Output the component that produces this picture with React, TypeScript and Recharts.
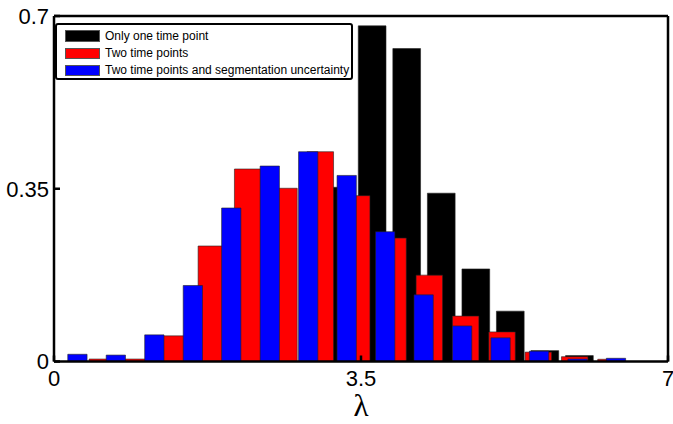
import React from "react";
import { ComposedChart, XAxis, YAxis, ReferenceArea, Label } from "recharts";

// bin centres and normalised frequencies
const xTicks = [0, 3.5, 7];
const yTicks = [0, 0.35, 0.7];

const singleCenters = [3.233, 3.627, 4.021, 4.415, 4.809, 5.202, 5.596, 5.99];
const singleValues = [0.353, 0.68, 0.634, 0.341, 0.1875, 0.102, 0.022, 0.012];

const twoCenters = [0.551, 0.965, 1.379, 1.794, 2.208, 2.622, 3.036, 3.451, 3.865, 4.279, 4.693, 5.108, 5.522, 5.936, 6.35];
const twoValues = [0.005, 0.005, 0.052, 0.234, 0.39, 0.351, 0.425, 0.336, 0.25, 0.175, 0.092, 0.06, 0.019, 0.0097, 0.0045];

const segCenters = [0.267, 0.705, 1.144, 1.583, 2.021, 2.46, 2.898, 3.337, 3.776, 4.214, 4.653, 5.091, 5.53, 5.969, 6.407];
const segValues = [0.0146, 0.013, 0.054, 0.154, 0.311, 0.396, 0.425, 0.377, 0.263, 0.135, 0.072, 0.048, 0.021, 0.005, 0.0065];

const seriesNames = [
  "Only one time point",
  "Two time points",
  "Two time points and segmentation uncertainty",
];

const series = [
  { name: seriesNames[0], color: "#000000", centers: singleCenters, values: singleValues, barWidth: 0.316 },
  { name: seriesNames[1], color: "#ff0000", centers: twoCenters, values: twoValues, barWidth: 0.302 },
  { name: seriesNames[2], color: "#0000ff", centers: segCenters, values: segValues, barWidth: 0.22 },
];

const FONT = '"Liberation Sans", Arial, Helvetica, sans-serif';

// legend drawn as an overlay so it does not take space from the plot
const LegendBox = () => (
  <div
    style={{
      position: "absolute",
      left: 55,
      top: 22.5,
      width: 298,
      height: 57,
      border: "2px solid #000",
      borderRadius: 3,
      boxSizing: "border-box",
      background: "#fff",
      fontFamily: FONT,
      fontSize: 12,
      color: "#000",
      paddingTop: 3,
    }}
  >
    {series.map((s) => (
      <div key={s.name} style={{ display: "flex", alignItems: "center", height: 17.2 }}>
        <span
          style={{
            display: "inline-block",
            width: 35,
            height: 11.5,
            marginLeft: 8,
            background: s.color,
            border: "1px solid #555",
            boxSizing: "border-box",
          }}
        />
        <span style={{ marginLeft: 5, whiteSpace: "nowrap" }}>{s.name}</span>
      </div>
    ))}
  </div>
);

const axisLine = { stroke: "#000", strokeWidth: 2.5 };
const tickLine = { stroke: "#000", strokeWidth: 2.5 };
const tickStyle = { fontSize: 22, fill: "#000", fontFamily: FONT };

export default function App() {
  return (
    <div style={{ position: "absolute", left: 0, top: 0, width: 673, height: 424, background: "#fff" }}>
      <ComposedChart width={673} height={424} margin={{ top: 15, right: 4, left: 0, bottom: 0 }}>
        <XAxis
          type="number"
          dataKey="x"
          domain={[0, 7]}
          ticks={xTicks}
          interval={0}
          height={62.5}
          axisLine={axisLine}
          tickLine={tickLine}
          tickSize={-6}
          tickMargin={15}
          tick={tickStyle}
          allowDataOverflow
        >
          <Label
            value="λ"
            position="insideBottom"
            offset={8}
            style={{ fontSize: 31, fontFamily: '"Liberation Serif", "Times New Roman", serif', fill: "#000" }}
          />
        </XAxis>
        <XAxis
          xAxisId="top"
          orientation="top"
          type="number"
          domain={[0, 7]}
          ticks={xTicks}
          interval={0}
          height={1}
          axisLine={axisLine}
          tickLine={tickLine}
          tickSize={-6}
          tick={false}
          allowDataOverflow
        />
        <YAxis
          type="number"
          domain={[0, 0.7]}
          ticks={yTicks}
          interval={0}
          width={54}
          axisLine={axisLine}
          tickLine={tickLine}
          tickSize={-6}
          tickMargin={11}
          tick={tickStyle}
          tickFormatter={(v: number) => String(v)}
          allowDataOverflow
        />
        <YAxis
          yAxisId="right"
          orientation="right"
          type="number"
          domain={[0, 0.7]}
          ticks={yTicks}
          interval={0}
          width={1}
          axisLine={axisLine}
          tickLine={tickLine}
          tickSize={-6}
          tick={false}
          allowDataOverflow
        />
        {series.map((s) =>
          s.centers.map((c, i) => (
            <ReferenceArea
              key={`${s.name}-${i}`}
              x1={c - s.barWidth / 2}
              x2={c + s.barWidth / 2}
              y1={0}
              y2={s.values[i]}
              fill={s.color}
              fillOpacity={1}
              stroke="#222"
              strokeWidth={0.6}
              ifOverflow="visible"
            />
          ))
        )}
      </ComposedChart>
      <LegendBox />
    </div>
  );
}
